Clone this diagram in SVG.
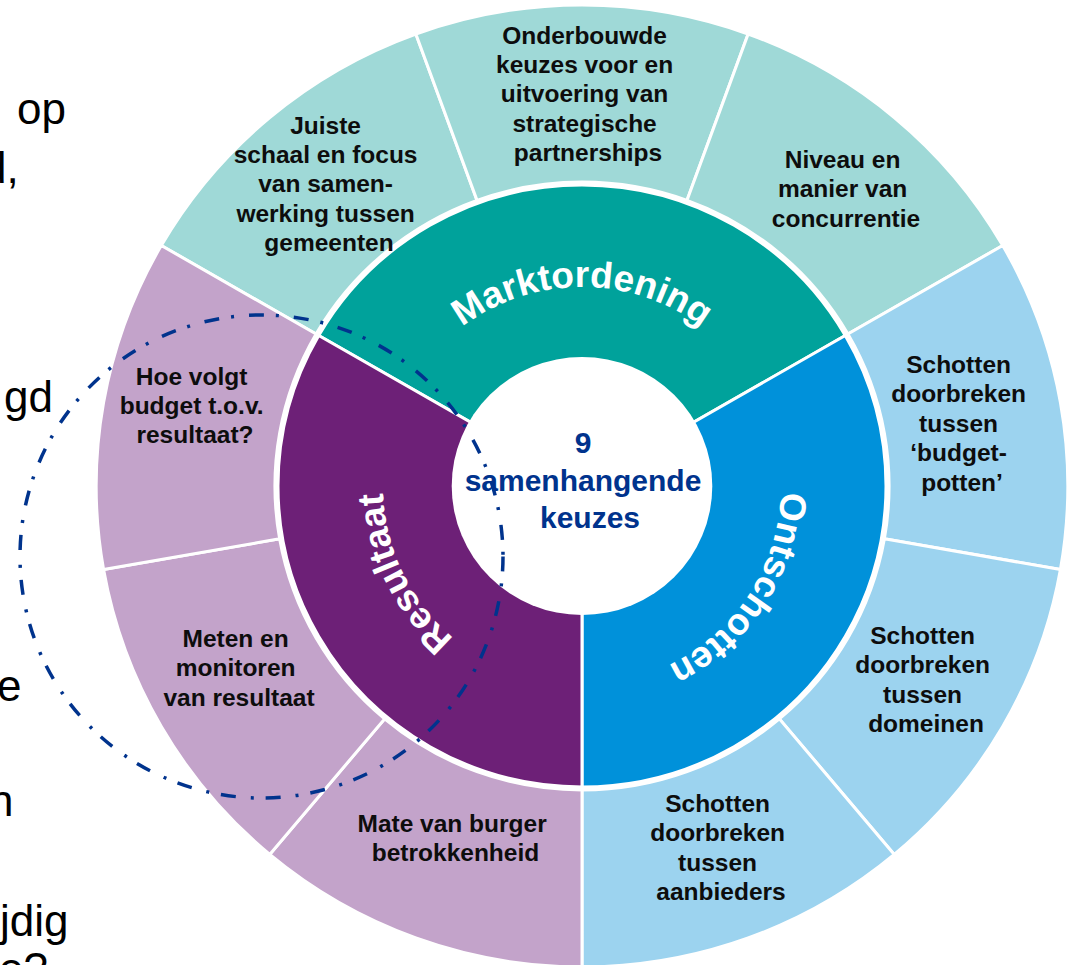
<svg xmlns="http://www.w3.org/2000/svg" xmlns:xlink="http://www.w3.org/1999/xlink" width="1070" height="965" viewBox="0 0 1070 965">
  <style>
    .seg { stroke: #ffffff; stroke-width: 3; stroke-linejoin: miter; }
    .lt-teal { fill: #9fd9d7; }
    .lt-blue { fill: #9cd3ef; }
    .lt-purple { fill: #c3a3ca; }
    .teal { fill: #00a29b; }
    .blue { fill: #0091da; }
    .purple { fill: #6d2077; }
    .lbl { font-family: "Liberation Sans", Arial, sans-serif; font-weight: bold; font-size: 24.5px; fill: #0d0d0d; text-anchor: middle; }
    .ring-lbl { font-family: "Liberation Sans", Arial, sans-serif; font-weight: bold; font-size: 37px; fill: #ffffff; }
    .hub { font-family: "Liberation Sans", Arial, sans-serif; font-weight: bold; font-size: 30px; fill: #00338d; text-anchor: middle; }
    .side { font-family: "Liberation Sans", Arial, sans-serif; font-size: 44px; fill: #000000; }
    .scope { fill: none; stroke: #00338d; stroke-width: 3.5; stroke-dasharray: 15 12 3 15; }
  </style>
  <defs>
    <!-- baseline arcs for the curved ring titles, clockwise around the hub -->
    <path id="arcTop" d="M 386.02 451.44 A 199 199 0 0 1 777.98 451.44"/>
    <path id="arcRight" d="M 717.72 340.46 A 199 199 0 0 1 504.24 669.18"/>
    <path id="arcLeft" d="M 636.85 677.29 A 199 199 0 0 1 465.03 325.01"/>
  </defs>

  <rect x="0" y="0" width="1070" height="965" fill="#ffffff"/>

  <!-- clipped lines of the neighbouring text column -->
  <g id="side-text">
    <text class="side" x="17" y="124">op</text>
    <text class="side" x="-18" y="183">d,</text>
    <text class="side" x="4" y="412">gd</text>
    <text class="side" x="-3" y="701">e</text>
    <text class="side" x="-11" y="816">n</text>
    <text class="side" x="0" y="936">jdig</text>
    <text class="side" x="-1" y="984">e?</text>
  </g>

  <g transform="translate(582,486) scale(1.01,1)">
    <!-- outer ring: Marktordening choices -->
    <g id="juiste-schaal">
      <path class="seg lt-teal" d="M -416.56 -240.5 A 481 481 0 0 1 -164.51 -451.99 L -103.97 -285.67 A 304 304 0 0 0 -263.27 -152 Z"/>
    </g>
    <g id="onderbouwde-keuzes">
      <path class="seg lt-teal" d="M -164.51 -451.99 A 481 481 0 0 1 164.51 -451.99 L 103.97 -285.67 A 304 304 0 0 0 -103.97 -285.67 Z"/>
    </g>
    <g id="niveau-concurrentie">
      <path class="seg lt-teal" d="M 164.51 -451.99 A 481 481 0 0 1 416.56 -240.5 L 263.27 -152 A 304 304 0 0 0 103.97 -285.67 Z"/>
    </g>
    <!-- outer ring: Ontschotten choices -->
    <g id="budgetpotten">
      <path class="seg lt-blue" d="M 416.56 -240.5 A 481 481 0 0 1 473.69 83.52 L 299.38 52.79 A 304 304 0 0 0 263.27 -152 Z"/>
    </g>
    <g id="domeinen">
      <path class="seg lt-blue" d="M 473.69 83.52 A 481 481 0 0 1 309.18 368.47 L 195.41 232.88 A 304 304 0 0 0 299.38 52.79 Z"/>
    </g>
    <g id="aanbieders">
      <path class="seg lt-blue" d="M 309.18 368.47 A 481 481 0 0 1 0 481 L 0 304 A 304 304 0 0 0 195.41 232.88 Z"/>
    </g>
    <!-- outer ring: Resultaat choices -->
    <g id="burger-betrokkenheid">
      <path class="seg lt-purple" d="M 0 481 A 481 481 0 0 1 -309.18 368.47 L -195.41 232.88 A 304 304 0 0 0 0 304 Z"/>
    </g>
    <g id="meten-monitoren">
      <path class="seg lt-purple" d="M -309.18 368.47 A 481 481 0 0 1 -473.69 83.52 L -299.38 52.79 A 304 304 0 0 0 -195.41 232.88 Z"/>
    </g>
    <g id="budget-resultaat">
      <path class="seg lt-purple" d="M -473.69 83.52 A 481 481 0 0 1 -416.56 -240.5 L -263.27 -152 A 304 304 0 0 0 -299.38 52.79 Z"/>
    </g>

    <!-- middle ring: the three themes -->
    <g id="marktordening">
      <path class="seg teal" d="M 0 0 L -260.68 -150.5 A 301 301 0 0 1 260.68 -150.5 Z"/>
    </g>
    <g id="ontschotten">
      <path class="seg blue" d="M 0 0 L 260.68 -150.5 A 301 301 0 0 1 0 301 Z"/>
    </g>
    <g id="resultaat">
      <path class="seg purple" d="M 0 0 L 0 301 A 301 301 0 0 1 -260.68 -150.5 Z"/>
    </g>

    <!-- hub -->
    <g id="hub">
      <circle cx="0" cy="0" r="129" fill="#ffffff"/>
    </g>
  </g>

  <!-- theme titles along the middle ring -->
  <text class="ring-lbl"><textPath xlink:href="#arcTop" href="#arcTop" startOffset="50%" text-anchor="middle">Marktordening</textPath></text>
  <text class="ring-lbl"><textPath xlink:href="#arcRight" href="#arcRight" startOffset="50%" text-anchor="middle">Ontschotten</textPath></text>
  <text class="ring-lbl"><textPath xlink:href="#arcLeft" href="#arcLeft" startOffset="50%" text-anchor="middle">Resultaat</textPath></text>

  <!-- hub caption -->
  <text class="hub" x="583" y="453">9</text>
  <text class="hub" x="583" y="491">samenhangende</text>
  <text class="hub" x="590" y="528">keuzes</text>

  <!-- outer ring captions -->
  <text class="lbl">
    <tspan x="329" y="133.5">Juiste</tspan>
    <tspan x="329" y="162.9">schaal en focus</tspan>
    <tspan x="329" y="192.3">van samen-</tspan>
    <tspan x="329" y="221.7">werking tussen</tspan>
    <tspan x="329" y="251.1">gemeenten</tspan>
  </text>
  <text class="lbl">
    <tspan x="588" y="43.5">Onderbouwde</tspan>
    <tspan x="588" y="72.9">keuzes voor en</tspan>
    <tspan x="588" y="102.3">uitvoering van</tspan>
    <tspan x="588" y="131.7">strategische</tspan>
    <tspan x="588" y="161.1">partnerships</tspan>
  </text>
  <text class="lbl">
    <tspan x="846" y="168">Niveau en</tspan>
    <tspan x="846" y="197.4">manier van</tspan>
    <tspan x="846" y="226.8">concurrentie</tspan>
  </text>
  <text class="lbl">
    <tspan x="962" y="373">Schotten</tspan>
    <tspan x="962" y="402.4">doorbreken</tspan>
    <tspan x="962" y="431.8">tussen</tspan>
    <tspan x="962" y="461.2">‘budget-</tspan>
    <tspan x="962" y="490.6">potten’</tspan>
  </text>
  <text class="lbl">
    <tspan x="926" y="644">Schotten</tspan>
    <tspan x="926" y="673.4">doorbreken</tspan>
    <tspan x="926" y="702.8">tussen</tspan>
    <tspan x="926" y="732.2">domeinen</tspan>
  </text>
  <text class="lbl">
    <tspan x="721" y="812">Schotten</tspan>
    <tspan x="721" y="841.4">doorbreken</tspan>
    <tspan x="721" y="870.8">tussen</tspan>
    <tspan x="721" y="900.2">aanbieders</tspan>
  </text>
  <text class="lbl">
    <tspan x="455.5" y="832">Mate van burger</tspan>
    <tspan x="455.5" y="861.4">betrokkenheid</tspan>
  </text>
  <text class="lbl">
    <tspan x="239" y="647">Meten en</tspan>
    <tspan x="239" y="676.4">monitoren</tspan>
    <tspan x="239" y="705.8">van resultaat</tspan>
  </text>
  <text class="lbl">
    <tspan x="195" y="385">Hoe volgt</tspan>
    <tspan x="195" y="414">budget t.o.v.</tspan>
    <tspan x="195" y="443">resultaat?</tspan>
  </text>

  <!-- dash-dot focus circle around the Resultaat side -->
  <g id="focus-circle">
    <circle class="scope" cx="261.5" cy="556.5" r="241.5"/>
  </g>
</svg>
